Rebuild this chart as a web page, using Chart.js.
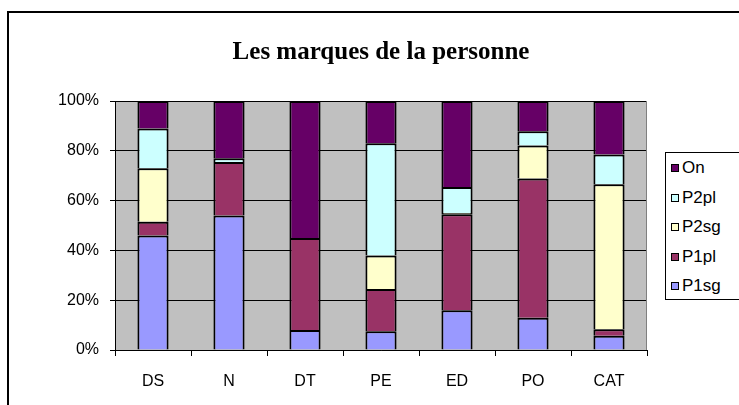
<!DOCTYPE html>
<html>
<head>
<meta charset="utf-8">
<script src="https://cdn.jsdelivr.net/npm/chart.js@4/dist/chart.umd.min.js"></script>
<style>
  html, body { margin: 0; padding: 0; background: #fff; }
  #wrap { position: relative; width: 739px; height: 405px; overflow: hidden; background: #fff; }
  #frame { position: absolute; left: 7px; top: 11px; width: 900px; height: 600px; border: 2px solid #000; box-sizing: border-box; }
  canvas { position: absolute; left: 0; top: 0; }
  #legend { position: absolute; left: 665px; top: 152px; width: 80px; height: 148px; border: 1px solid #000; box-sizing: border-box; background: #fff;
            font-family: 'Liberation Sans', Arial, sans-serif; font-size: 17px; color: #000; }
  .item { position: absolute; left: 5px; height: 20px; line-height: 20px; white-space: nowrap; }
  .sw { display: inline-block; width: 6px; height: 6px; border: 1px solid #000; margin-right: 3px; vertical-align: 1px; }
</style>
</head>
<body>
<div id="wrap">
  <div id="frame"></div>
  <canvas id="c" width="739" height="405"></canvas>
  <div id="legend"></div>
</div>
<script>
const categories = ['DS', 'N', 'DT', 'PE', 'ED', 'PO', 'CAT'];
const P1sg = [46.0, 54.0, 8.0, 7.5, 16.0, 13.0, 5.7];
const P1pl = [5.5, 21.5, 37.0, 17.0, 38.5, 55.9, 2.6];
const P2sg = [21.5, null, null, 13.5, 0.5, 13.2, 58.3];
const P2pl = [16.0, 1.5, null, 45.0, 10.5, 5.8, 11.9];
const On   = [11.0, 23.0, 55.0, 17.0, 34.5, 12.1, 21.5];
const yTicks = [0, 20, 40, 60, 80, 100];
const titleText = 'Les marques de la personne';

const series = [
  { label: 'P1sg', data: P1sg, color: '#9999FF' },
  { label: 'P1pl', data: P1pl, color: '#993366' },
  { label: 'P2sg', data: P2sg, color: '#FFFFCC' },
  { label: 'P2pl', data: P2pl, color: '#CCFFFF' },
  { label: 'On',   data: On,   color: '#660066' }
];

const plotBg = {
  id: 'plotBg',
  beforeDraw(chart) {
    const a = chart.chartArea, ctx = chart.ctx;
    ctx.save();
    ctx.fillStyle = '#C0C0C0';
    ctx.fillRect(a.left, a.top, a.right - a.left, a.bottom - a.top);
    ctx.restore();
  },
  beforeDatasetsDraw(chart) {
    const a = chart.chartArea, ctx = chart.ctx;
    ctx.save();
    ctx.strokeStyle = '#808080';
    ctx.lineWidth = 1;
    ctx.beginPath();
    ctx.moveTo(a.right - 0.5, a.top);
    ctx.lineTo(a.right - 0.5, a.bottom);
    ctx.stroke();
    ctx.restore();
  }
};

const chart = new Chart(document.getElementById('c'), {
  type: 'bar',
  data: {
    labels: categories,
    datasets: series.map(s => ({
      label: s.label,
      data: s.data,
      backgroundColor: s.color,
      borderColor: '#000',
      borderWidth: { top: 2, left: 2, right: 2, bottom: 0 },
      borderSkipped: false,
      inflateAmount: 0,
      barPercentage: 0.41,
      categoryPercentage: 1.0
    }))
  },
  options: {
    responsive: false,
    animation: false,
    devicePixelRatio: 1,
    layout: { padding: { left: 0, right: 92, top: 38, bottom: 0 } },
    plugins: {
      legend: { display: false },
      tooltip: { enabled: false },
      title: {
        display: true,
        text: titleText,
        fullSize: false,
        color: '#000',
        font: { family: "'Liberation Serif', 'Times New Roman', serif", size: 25, weight: 'bold', lineHeight: 1.2 },
        padding: { top: 0, bottom: 33 }
      }
    },
    scales: {
      x: {
        stacked: true,
        offset: true,
        grid: { display: true, drawOnChartArea: false, drawTicks: true, tickLength: 6, color: '#000', offset: true },
        border: { display: true, color: '#000', width: 1 },
        ticks: { color: '#000', padding: 16, font: { family: "'Liberation Sans', Arial, sans-serif", size: 16 } },
        afterFit(scale) { scale.height = 55; }
      },
      y: {
        stacked: true,
        min: 0,
        max: 100,
        afterBuildTicks(scale) { scale.ticks = yTicks.map(v => ({ value: v })); },
        grid: { display: true, drawOnChartArea: true, drawTicks: true, tickLength: 5, color: '#000', lineWidth: 1 },
        border: { display: true, color: '#000', width: 1 },
        ticks: {
          color: '#000', padding: 11,
          font: { family: "'Liberation Sans', Arial, sans-serif", size: 16 },
          callback: v => v + '%'
        },
        afterFit(scale) { scale.width = 115; }
      }
    }
  },
  plugins: [plotBg]
});

// HTML legend built from the chart's datasets (reverse order, as in the reference)
const leg = document.getElementById('legend');
const ys = [15, 44.5, 74, 103.5, 133];
chart.data.datasets.slice().reverse().forEach((ds, i) => {
  const d = document.createElement('div');
  d.className = 'item';
  d.style.top = (ys[i] - 10) + 'px';
  const sw = document.createElement('span');
  sw.className = 'sw';
  sw.style.background = ds.backgroundColor;
  d.appendChild(sw);
  d.appendChild(document.createTextNode(ds.label));
  leg.appendChild(d);
});
</script>
</body>
</html>
